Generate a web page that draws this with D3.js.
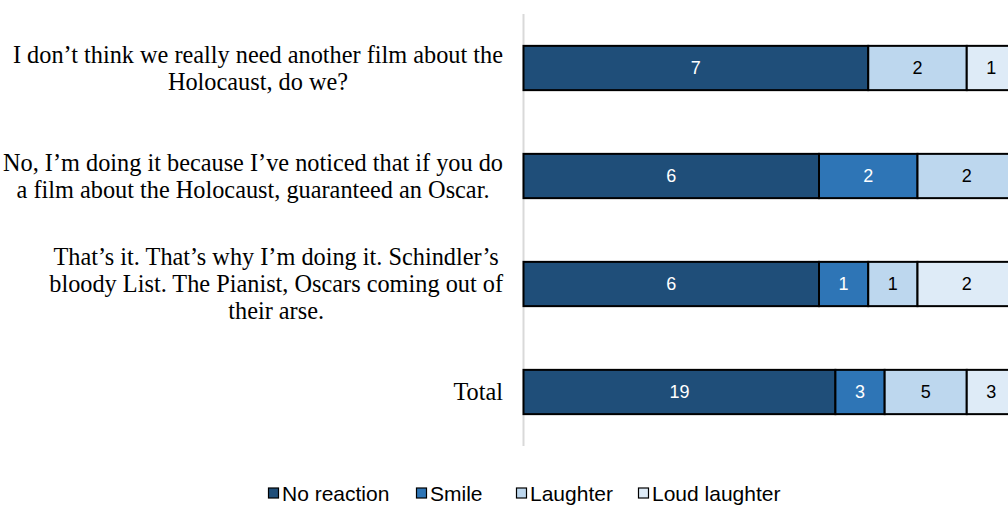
<!DOCTYPE html>
<html>
<head>
<meta charset="utf-8">
<script src="https://cdn.jsdelivr.net/npm/d3@7"></script>
<style>
  body { margin: 0; background: #fff; }
  svg { display: block; }
</style>
</head>
<body>
<div id="chart"></div>
<script>
const width = 1008;
const height = 506;

// categories, each label already split into the lines it wraps to
const categories = [
  ["I don\u2019t think we really need another film about the", "Holocaust, do we?"],
  ["No, I\u2019m doing it because I\u2019ve noticed that if you do", "a film about the Holocaust, guaranteed an Oscar."],
  ["That\u2019s it. That\u2019s why I\u2019m doing it. Schindler\u2019s", "bloody List. The Pianist, Oscars coming out of", "their arse."],
  ["Total"]
];
const series = ["No reaction", "Smile", "Laughter", "Loud laughter"];
const noReaction = [7, 6, 6, 19];
const smile = [0, 2, 1, 3];
const laughter = [2, 2, 1, 5];
const loudLaughter = [1, 0, 2, 3];
const colors = ["#1f4e79", "#2e75b6", "#bdd7ee", "#deebf7"];
const textColors = ["#fff", "#fff", "#000", "#000"];

const values = [noReaction, smile, laughter, loudLaughter];
const rows = categories.map((c, i) => {
  const r = { idx: i };
  series.forEach((s, j) => r[s] = values[j][i]);
  return r;
});

// 100% stacked
const stacked = d3.stack()
  .keys(series)
  .offset(d3.stackOffsetExpand)(rows);

const axisX = 523.5;
const x = d3.scaleLinear().domain([0, 1]).range([axisX, 1016]);
const y = d3.scaleBand().domain(d3.range(categories.length)).range([14, 446]).paddingInner(0.59).paddingOuter(0.295);

const svg = d3.select("#chart").append("svg")
  .attr("width", width)
  .attr("height", height);

// category axis line
svg.append("line")
  .attr("x1", axisX).attr("x2", axisX)
  .attr("y1", 14).attr("y2", 446)
  .attr("stroke", "#d9d9d9")
  .attr("stroke-width", 2);

const layer = svg.append("g")
  .selectAll("g")
  .data(stacked)
  .join("g")
  .attr("fill", (d, i) => colors[i]);

layer.selectAll("rect")
  .data(d => d.filter(p => p[1] - p[0] > 0))
  .join("rect")
  .attr("x", p => x(p[0]))
  .attr("y", p => y(p.data.idx))
  .attr("width", p => x(p[1]) - x(p[0]))
  .attr("height", y.bandwidth())
  .attr("stroke", "#000")
  .attr("stroke-width", 2);

// value labels
stacked.forEach((s, i) => {
  svg.append("g")
    .selectAll("text")
    .data(s.filter(p => p[1] - p[0] > 0))
    .join("text")
    .attr("x", p => (x(p[0]) + x(p[1])) / 2)
    .attr("y", p => y(p.data.idx) + y.bandwidth() / 2)
    .attr("dy", "0.36em")
    .attr("text-anchor", "middle")
    .attr("fill", textColors[i])
    .style("font", "18px 'Liberation Sans', Arial, sans-serif")
    .text(p => p.data[s.key]);
});

// category labels: block right aligned, lines centred within it
const labelRight = 503;
const lineH = 27;
categories.forEach((lines, i) => {
  const g = svg.append("g");
  const t = g.selectAll("text")
    .data(lines)
    .join("text")
    .style("font", "24.3px 'Liberation Serif', 'Times New Roman', serif")
    .attr("text-anchor", "middle")
    .attr("fill", "#000")
    .attr("y", (d, k) => y(i) + y.bandwidth() / 2 + (k - (lines.length - 1) / 2) * lineH)
    .attr("dy", "0.33em")
    .text(d => d);
  const maxW = d3.max(t.nodes(), n => n.getComputedTextLength());
  t.attr("x", labelRight - maxW / 2);
});

// legend
const legend = svg.append("g")
  .style("font", "21px 'Liberation Sans', Arial, sans-serif");
const legendX = [268, 416, 516, 638];
series.forEach((s, i) => {
  const item = legend.append("g").attr("transform", `translate(${legendX[i]},493)`);
  item.append("rect")
    .attr("x", 0.5).attr("y", -5)
    .attr("width", 10).attr("height", 10)
    .attr("fill", colors[i])
    .attr("stroke", "#000")
    .attr("stroke-width", 1.2);
  item.append("text")
    .attr("x", 14)
    .attr("dy", "0.36em")
    .attr("fill", "#000")
    .text(s);
});
</script>
</body>
</html>
